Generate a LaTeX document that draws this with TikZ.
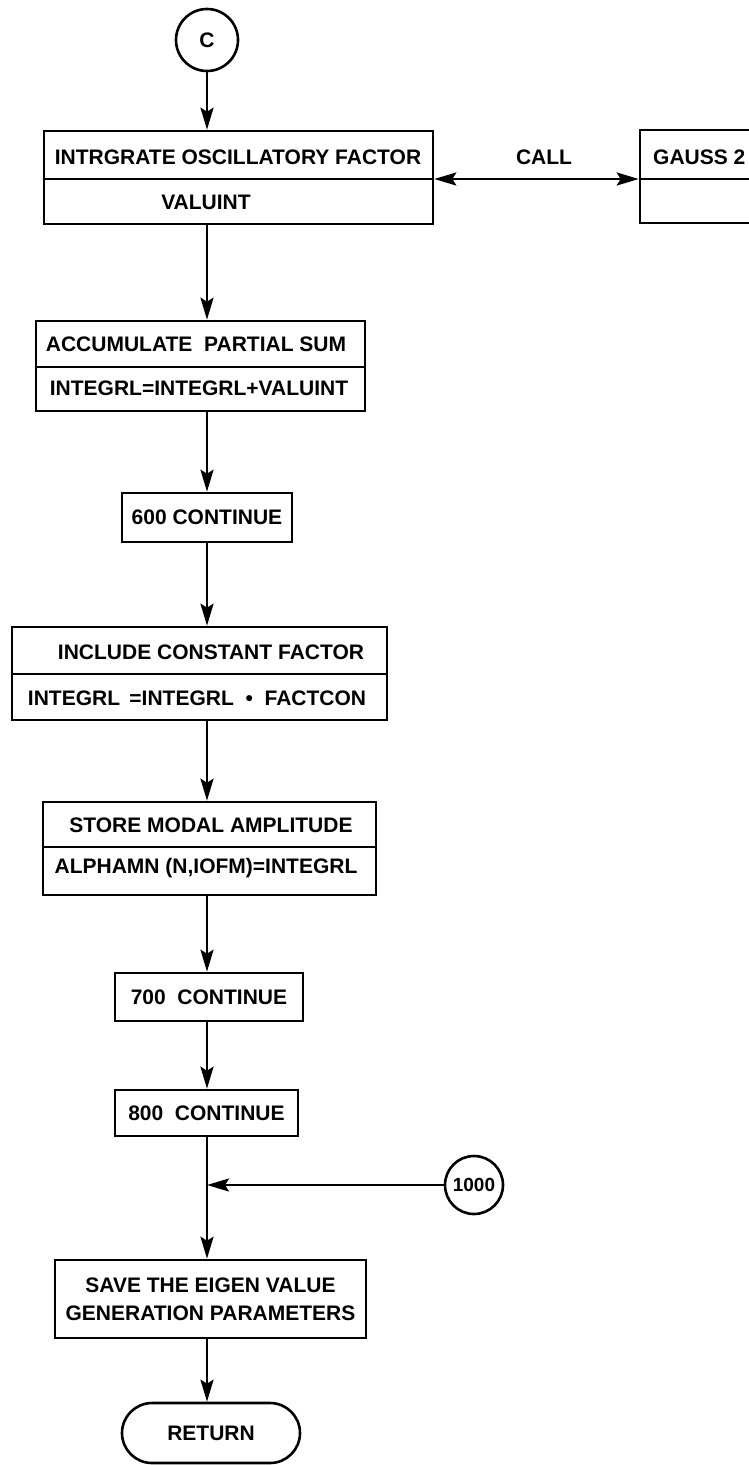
\documentclass[tikz,border=0pt]{standalone}
\usepackage{fontspec}
\setmainfont{Liberation Sans}
\usetikzlibrary{arrows.meta,shapes.geometric}

\begin{document}
\begin{tikzpicture}[x=1pt,y=-1pt,
  every node/.style={font=\fontsize{21}{23}\selectfont\bfseries},
  box/.style={draw, line width=2.6pt, inner sep=0pt},
  conn/.style={draw, line width=2.6pt},
  tip/.tip={Stealth[length=22pt,width=13pt,inset=4pt]},
  arr/.style={conn, -tip},
  txt/.style={inner sep=0pt},
  conncircle/.style={draw, circle, line width=2.6pt, inner sep=0pt}]

% page frame
\clip (0,0) rectangle (749,1465);
\fill[white] (0,0) rectangle (749,1465);

% spine of the main flow and the divider levels
\coordinate (spine) at (207,0);
\coordinate (d1) at (0,179);
\coordinate (d2) at (0,367);
\coordinate (d3) at (0,674);
\coordinate (d4) at (0,847);
\coordinate (j)  at (207,1185);

% entry connector
\node[conncircle, minimum size=62pt] (c) at (207,40) {C};

% integrate oscillatory factor
\node[box, minimum width=389pt, minimum height=93pt] (b1) at (238.5,177.5) {};
\draw[conn] (b1.west |- d1) -- (b1.east |- d1);
\node[txt] (b1t) at (238,157) {INTRGRATE OSCILLATORY FACTOR};
\node[txt] (b1b) at (206,202) {VALUINT};

% called subroutine
\node[box, minimum width=150pt, minimum height=93pt] (g) at (715,176.5) {};
\draw[conn] (g.west |- d1) -- (g.east |- d1);
\node[txt, anchor=west] (gt) at (653,157) {GAUSS 2};
\node[txt] (call) at (544,157) {CALL};
\draw[conn, tip-tip] (b1.east |- d1) -- (g.west |- d1);

% accumulate partial sum
\node[box, minimum width=329pt, minimum height=90pt] (b2) at (200.5,366) {};
\draw[conn] (b2.west |- d2) -- (b2.east |- d2);
\node[txt] (b2t) at (196,344) {ACCUMULATE\ \ PARTIAL SUM};
\node[txt] (b2b) at (199,388) {INTEGRL=INTEGRL+VALUINT};

% 600 continue
\node[box, minimum width=170pt, minimum height=49pt] (c600) at (207,517.5) {600 CONTINUE};

% include constant factor
\node[box, minimum width=375pt, minimum height=93pt] (b3) at (199.5,673.5) {};
\draw[conn] (b3.west |- d3) -- (b3.east |- d3);
\node[txt] (b3t) at (211,652) {INCLUDE CONSTANT FACTOR};
\node[txt] (b3b) at (197,698) {INTEGRL \,=INTEGRL \ \textbullet\ \ FACTCON};

% store modal amplitude
\node[box, minimum width=333pt, minimum height=93pt] (b4) at (209.5,848.5) {};
\draw[conn] (b4.west |- d4) -- (b4.east |- d4);
\node[txt] (b4t) at (211,825) {STORE MODAL AMPLITUDE};
\node[txt] (b4b) at (206,868) {ALPHAMN (N,IOFM)=INTEGRL};

% loop ends
\node[box, minimum width=188pt, minimum height=48pt] (c700) at (209,997) {700\ \ CONTINUE};
\node[box, minimum width=183pt, minimum height=46pt] (c800) at (206.5,1113) {800\ \ CONTINUE};

% re-entry connector
\node[conncircle, minimum size=58pt, font=\fontsize{19}{21}\selectfont\bfseries] (k1000) at (474,1185) {1000};

% save parameters
\node[box, minimum width=311pt, minimum height=78pt, align=center,
      font=\fontsize{21}{28}\selectfont\bfseries] (save) at (210.5,1299)
      {SAVE THE EIGEN VALUE\\GENERATION PARAMETERS};

% return
\node[box, minimum width=178pt, minimum height=60pt, rounded corners=30pt] (ret) at (211,1433) {RETURN};

% flow
\draw[arr] (c.south) -- (spine |- b1.north);
\draw[arr] (spine |- b1.south) -- (spine |- b2.north);
\draw[arr] (spine |- b2.south) -- (spine |- c600.north);
\draw[arr] (spine |- c600.south) -- (spine |- b3.north);
\draw[arr] (spine |- b3.south) -- (spine |- b4.north);
\draw[arr] (spine |- b4.south) -- (spine |- c700.north);
\draw[arr] (spine |- c700.south) -- (spine |- c800.north);
\draw[conn] (spine |- c800.south) -- (j);
\draw[arr] (k1000.west) -- (j);
\draw[arr] (j) -- (spine |- save.north);
\draw[arr] (spine |- save.south) -- (spine |- ret.north);
\end{tikzpicture}
\end{document}
